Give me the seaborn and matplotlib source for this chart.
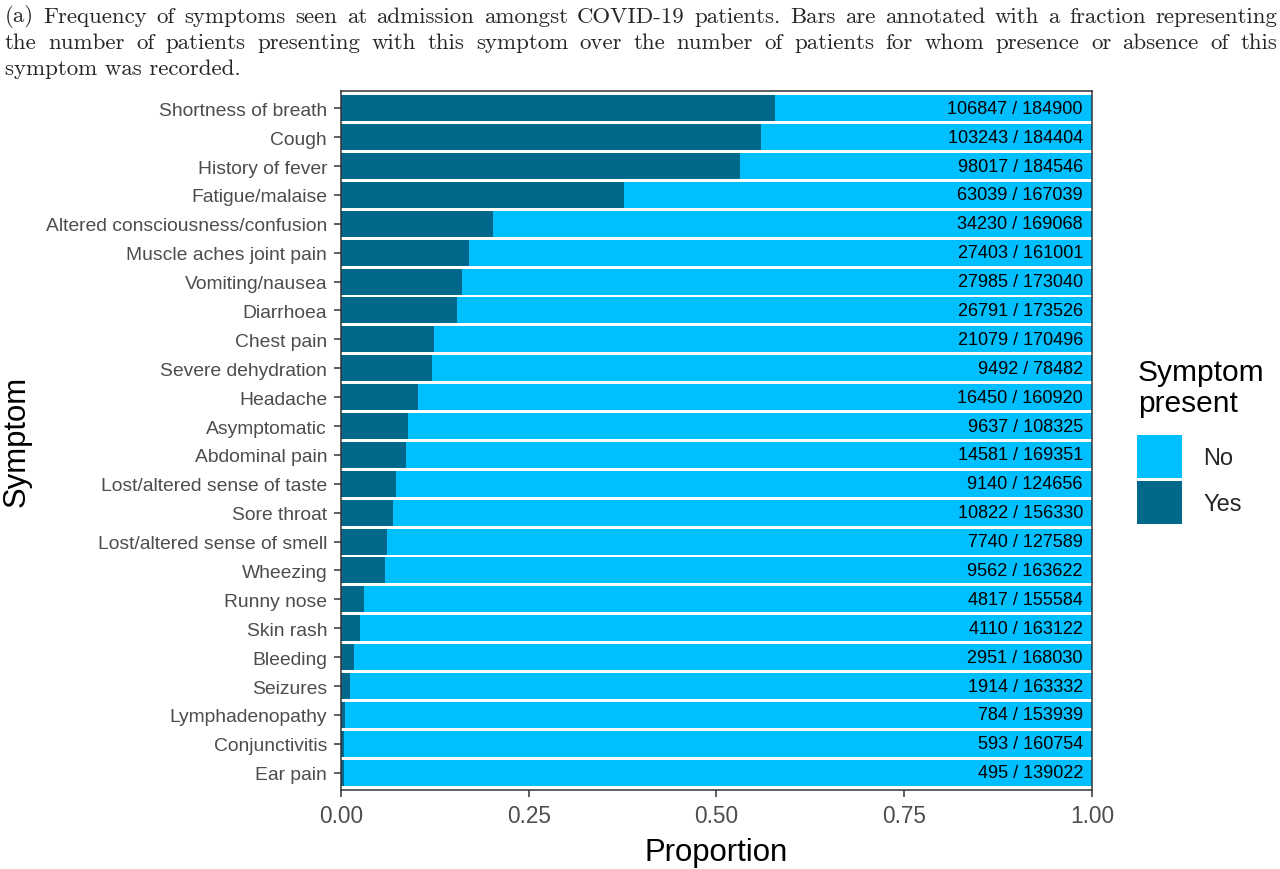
import seaborn as sns
import matplotlib.pyplot as plt
import pandas as pd
from matplotlib.patches import Patch

# Symptom counts at admission (present / recorded)
symptoms = [
    'Shortness of breath', 'Cough', 'History of fever', 'Fatigue/malaise',
    'Altered consciousness/confusion', 'Muscle aches joint pain', 'Vomiting/nausea',
    'Diarrhoea', 'Chest pain', 'Severe dehydration', 'Headache', 'Asymptomatic',
    'Abdominal pain', 'Lost/altered sense of taste', 'Sore throat',
    'Lost/altered sense of smell', 'Wheezing', 'Runny nose', 'Skin rash', 'Bleeding',
    'Seizures', 'Lymphadenopathy', 'Conjunctivitis', 'Ear pain',
]
present = [106847, 103243, 98017, 63039, 34230, 27403, 27985, 26791, 21079, 9492,
           16450, 9637, 14581, 9140, 10822, 7740, 9562, 4817, 4110, 2951, 1914, 784,
           593, 495]
recorded = [184900, 184404, 184546, 167039, 169068, 161001, 173040, 173526, 170496,
            78482, 160920, 108325, 169351, 124656, 156330, 127589, 163622, 155584,
            163122, 168030, 163332, 153939, 160754, 139022]

df = pd.DataFrame({'symptom': symptoms, 'present': present, 'recorded': recorded})
df['prop_yes'] = df['present'] / df['recorded']
df['prop_all'] = df['recorded'] / df['recorded']
df['label'] = df['present'].astype(str) + ' / ' + df['recorded'].astype(str)

col_no = '#00BFFF'
col_yes = '#00688B'

sns.set_theme(style='white')
plt.rcParams['font.family'] = ['Liberation Sans', 'DejaVu Sans']

fig = plt.figure(figsize=(12.8, 8.7), dpi=100)
ax = fig.add_axes([0.2664, 0.0908, 0.5867, 0.8035])

sns.barplot(data=df, x='prop_all', y='symptom', orient='h', color=col_no,
            saturation=1, width=0.9, linewidth=0, ax=ax)
sns.barplot(data=df, x='prop_yes', y='symptom', orient='h', color=col_yes,
            saturation=1, width=0.9, linewidth=0, ax=ax)

for i, lab in enumerate(df['label']):
    ax.text(0.988, i, lab, ha='right', va='center', fontsize=13, color='black')

ax.set_xlim(0, 1)
ax.set_ylim(23.6, -0.6)
ax.set_xticks([0, 0.25, 0.5, 0.75, 1.0])
ax.set_xticklabels(['0.00', '0.25', '0.50', '0.75', '1.00'])
ax.tick_params(axis='x', labelsize=16.3, labelcolor='#4D4D4D', color='#333333',
               length=5, width=1.1, bottom=True, pad=5)
ax.tick_params(axis='y', labelsize=13.9, labelcolor='#4D4D4D', color='#333333',
               length=5, width=1.1, left=True, pad=5)
for s in ax.spines.values():
    s.set_visible(True)
    s.set_color('#333333')
    s.set_linewidth(1.1)

ax.set_xlabel('Proportion', fontsize=22.4, color='black', labelpad=7)
ax.set_ylabel('Symptom', fontsize=22.4, color='black', labelpad=10)

# Legend: title as separate text so the gap to the keys can match
fig.text(1138 / 1280, 1 - 359 / 870, 'Symptom\npresent', fontsize=21.5,
         ha='left', va='top', linespacing=1.15, color='black')
handles = [Patch(facecolor=col_no, edgecolor='none', label='No'),
           Patch(facecolor=col_yes, edgecolor='none', label='Yes')]
leg = fig.legend(handles=handles, loc='upper left',
                 bbox_to_anchor=(0.872, 1 - 415 / 870), frameon=False, fontsize=17,
                 handlelength=1.9, handleheight=2.4,
                 labelspacing=0.15, handletextpad=0.9)

# Caption, justified lines in Computer Modern
caption_lines = [
    '(a) Frequency of symptoms seen at admission amongst COVID-19 patients. Bars are annotated with a fraction representing',
    'the number of patients presenting with this symptom over the number of patients for whom presence or absence of this',
    'symptom was recorded.',
]
x0, x1 = 5 / 1280, 1277 / 1280
ys = [1 - 17 / 870, 1 - 43 / 870, 1 - 69 / 870]
cap_size = 16.5
fig.canvas.draw()
renderer = fig.canvas.get_renderer()
for k, line in enumerate(caption_lines):
    words = line.split(' ')
    if k == len(caption_lines) - 1:
        fig.text(x0, ys[k], line, family=['cmr10'], fontsize=cap_size, va='center', ha='left')
        continue
    texts = [fig.text(0, ys[k], w, family=['cmr10'], fontsize=cap_size, va='center', ha='left')
             for w in words]
    widths = [t.get_window_extent(renderer).width / fig.bbox.width for t in texts]
    gap = (x1 - x0 - sum(widths)) / (len(words) - 1)
    x = x0
    for t, w in zip(texts, widths):
        t.set_x(x)
        x += w + gap

fig.savefig('out.png', dpi=100, facecolor='white')
